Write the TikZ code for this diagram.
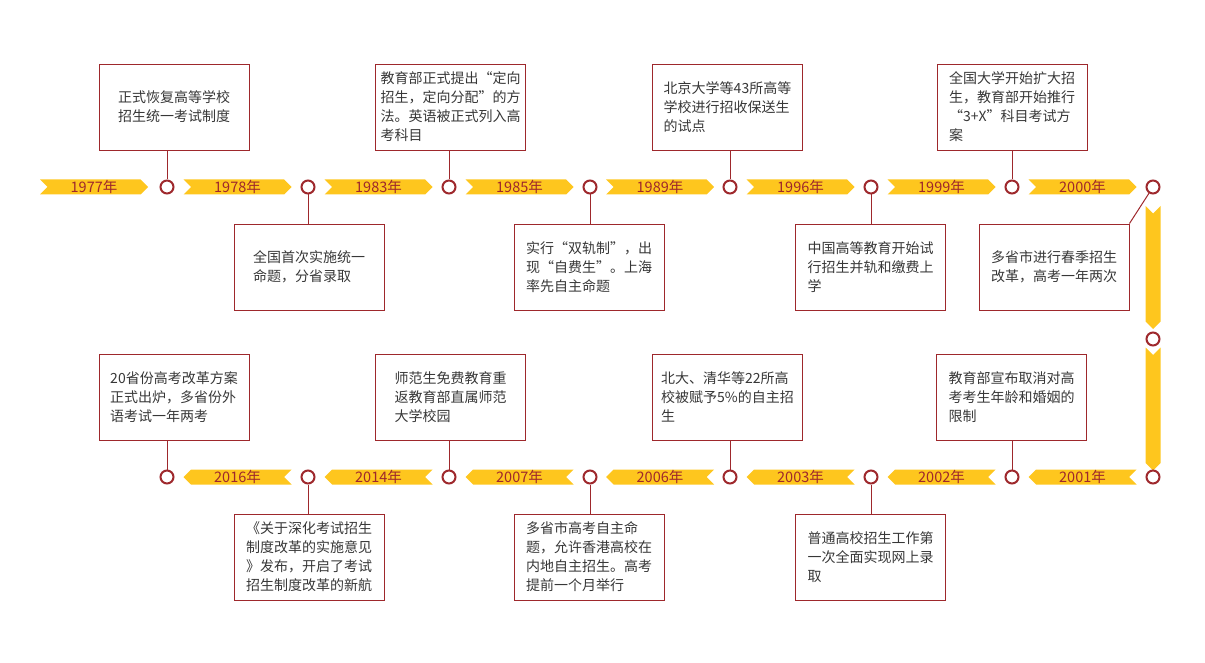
\documentclass[tikz,border=0pt]{standalone}
\usepackage{fontspec}
\setmainfont{Noto Sans CJK SC}
\usetikzlibrary{shapes.symbols}
\definecolor{dred}{RGB}{158,40,44}
\definecolor{gold}{RGB}{254,198,30}
\definecolor{ink}{RGB}{55,55,55}
\begin{document}
\begin{tikzpicture}[x=1pt,y=-1pt,
	box/.style={draw=dred,line width=0.9pt,minimum width=150pt,minimum height=86pt,inner sep=0pt,align=left,text=ink,font=\fontsize{14}{19}\selectfont},
	dot/.style={circle,draw=dred,line width=2pt,fill=white,minimum size=13pt,inner sep=0pt},
	yr/.style={signal,signal from=west,signal to=east,signal pointer angle=90,fill=gold,minimum width=108pt,minimum height=15pt,inner sep=0pt,text=dred,font=\fontsize{14.5}{14.5}\selectfont},
	yl/.style={yr,signal from=east,signal to=west},
	yd/.style={signal,signal from=north,signal to=south,signal pointer angle=90,fill=gold,minimum width=15pt,minimum height=108pt,inner sep=0pt},
	link/.style={draw=dred,line width=1pt}]
	\useasboundingbox (0,0) rectangle (1205,663);
	\node[yr] (r1977) at (94,187) {1977年};
	\node[yr] (r1978) at (237.5,187) {1978年};
	\node[yr] (r1983) at (378.5,187) {1983年};
	\node[yr] (r1985) at (519.5,187) {1985年};
	\node[yr] (r1989) at (660,187) {1989年};
	\node[yr] (r1996) at (800.5,187) {1996年};
	\node[yr] (r1999) at (941.5,187) {1999年};
	\node[yr] (r2000) at (1082.5,187) {2000年};
	\node[yd] (v1) at (1153,267.5) {};
	\node[yd] (v2) at (1153,409) {};
	\node[yl] (r2016) at (237.5,477) {2016年};
	\node[yl] (r2014) at (378.5,477) {2014年};
	\node[yl] (r2007) at (519.5,477) {2007年};
	\node[yl] (r2006) at (660,477) {2006年};
	\node[yl] (r2003) at (800.5,477) {2003年};
	\node[yl] (r2002) at (941.5,477) {2002年};
	\node[yl] (r2001) at (1082.5,477) {2001年};
	\node[dot] (c1) at (167,187) {};
	\node[dot] (c2) at (308,187) {};
	\node[dot] (c3) at (449,187) {};
	\node[dot] (c4) at (590,187) {};
	\node[dot] (c5) at (730,187) {};
	\node[dot] (c6) at (871,187) {};
	\node[dot] (c7) at (1012,187) {};
	\node[dot] (c8) at (1153,187) {};
	\node[dot] (cm) at (1153,339) {};
	\node[dot] (d1) at (167,477) {};
	\node[dot] (d2) at (308,477) {};
	\node[dot] (d3) at (449,477) {};
	\node[dot] (d4) at (590,477) {};
	\node[dot] (d5) at (730,477) {};
	\node[dot] (d6) at (871,477) {};
	\node[dot] (d7) at (1012,477) {};
	\node[dot] (d8) at (1153,477) {};
	\node[box] (b1977) at (174,107) {正式恢复高等学校\\招生统一考试制度};
	\node[box] (b1978) at (309,267) {全国首次实施统一\\命题，分省录取};
	\node[box] (b1983) at (450.5,107) {教育部正式提出“定向\\招生，定向分配”的方\\法。英语被正式列入高\\考科目};
	\node[box] (b1985) at (589,267) {实行“双轨制”，出\\现“自费生”。上海\\率先自主命题};
	\node[box] (b1989) at (727.5,107) {北京大学等43所高等\\学校进行招收保送生\\的试点};
	\node[box] (b1996) at (870.5,267) {中国高等教育开始试\\行招生并轨和缴费上\\学};
	\node[box] (b1999) at (1012,107) {全国大学开始扩大招\\生，教育部开始推行\\“3+X”科目考试方\\案};
	\node[box] (b2000) at (1054,267) {多省市进行春季招生\\改革，高考一年两次};
	\node[box] (b2016) at (174,397) {20省份高考改革方案\\正式出炉，多省份外\\语考试一年两考};
	\node[box] (b2014) at (309,557) {《关于深化考试招生\\制度改革的实施意见\\》发布，开启了考试\\招生制度改革的新航};
	\node[box] (b2007) at (450.5,397) {师范生免费教育重\\返教育部直属师范\\大学校园};
	\node[box] (b2006) at (589,557) {多省市高考自主命\\题，允许香港高校在\\内地自主招生。高考\\提前一个月举行};
	\node[box] (b2003) at (727.5,397) {北大、清华等22所高\\校被赋予5\%的自主招\\生};
	\node[box] (b2002) at (870.5,557) {普通高校招生工作第\\一次全面实现网上录\\取};
	\node[box] (b2001) at (1011.5,397) {教育部宣布取消对高\\考考生年龄和婚姻的\\限制};
	\draw[link] (b1977.south -| c1) -- (c1);
	\draw[link] (b1978.north -| c2) -- (c2);
	\draw[link] (b1983.south -| c3) -- (c3);
	\draw[link] (b1985.north -| c4) -- (c4);
	\draw[link] (b1989.south -| c5) -- (c5);
	\draw[link] (b1996.north -| c6) -- (c6);
	\draw[link] (b1999.south -| c7) -- (c7);
	\draw[link] (b2000.north east) -- (c8);
	\draw[link] (b2016.south -| d1) -- (d1);
	\draw[link] (b2014.north -| d2) -- (d2);
	\draw[link] (b2007.south -| d3) -- (d3);
	\draw[link] (b2006.north -| d4) -- (d4);
	\draw[link] (b2003.south -| d5) -- (d5);
	\draw[link] (b2002.north -| d6) -- (d6);
	\draw[link] (b2001.south -| d7) -- (d7);
\end{tikzpicture}
\end{document}
